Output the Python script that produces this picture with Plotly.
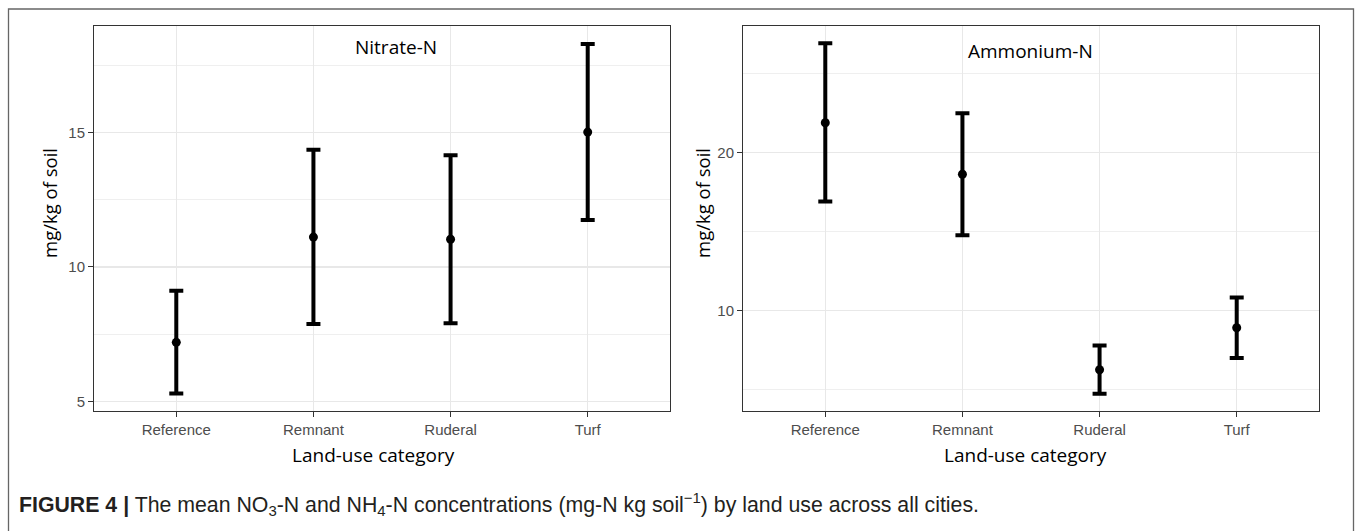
import plotly.graph_objects as go

W, H = 1357, 531

categories = ["Reference", "Remnant", "Ruderal", "Turf"]

nitrate_mean = [7.20, 11.11, 11.03, 15.01]
nitrate_upper = [9.12, 14.35, 14.15, 18.28]
nitrate_lower = [5.30, 7.88, 7.91, 11.74]

ammonium_mean = [21.90, 18.63, 6.23, 8.89]
ammonium_upper = [26.94, 22.50, 7.77, 10.82]
ammonium_lower = [16.90, 14.76, 4.71, 6.98]

nitrate_ticks = [5, 10, 15]
ammonium_ticks = [10, 20]

TITLE_FONT = "Open Sans, Noto Sans, sans-serif"
TICK_FONT = "Liberation Sans, Arial, sans-serif"


def px(x):
    return x / W


def py(y):
    return 1 - y / H


def add_panel(fig, means, upper, lower, xa, ya):
    fig.add_trace(go.Scatter(
        x=categories, y=means, mode="markers",
        xaxis=xa, yaxis=ya,
        marker=dict(color="black", size=9),
        error_y=dict(
            type="data", symmetric=False,
            array=[u - m for u, m in zip(upper, means)],
            arrayminus=[m - l for m, l in zip(means, lower)],
            color="black", thickness=4, width=7,
        ),
        showlegend=False,
        cliponaxis=False,
    ))


fig = go.Figure()
add_panel(fig, nitrate_mean, nitrate_upper, nitrate_lower, "x", "y")
add_panel(fig, ammonium_mean, ammonium_upper, ammonium_lower, "x2", "y2")

common_x = dict(
    type="category", categoryorder="array", categoryarray=categories,
    range=[-0.6, 3.6], showgrid=True, gridcolor="#E8E8E8", gridwidth=1.4,
    showline=True, mirror=True, linecolor="#333333", linewidth=1,
    ticks="outside", ticklen=5, tickcolor="#333333", tickwidth=1,
    tickfont=dict(family=TICK_FONT, size=15, color="#4D4D4D"),
    zeroline=False, fixedrange=True,
)
common_y = dict(
    showgrid=True, gridcolor="#E8E8E8", gridwidth=1.4,
    showline=True, mirror=True, linecolor="#333333", linewidth=1,
    ticks="outside", ticklen=5, tickcolor="#333333", tickwidth=1,
    tickfont=dict(family=TICK_FONT, size=15, color="#4D4D4D"),
    zeroline=False, fixedrange=True,
)

fig.update_layout(
    width=W, height=H, autosize=False,
    margin=dict(l=0, r=0, t=0, b=0),
    paper_bgcolor="white", plot_bgcolor="white",
    xaxis=dict(common_x, domain=[px(94), px(670)], anchor="y"),
    xaxis2=dict(common_x, domain=[px(743), px(1319)], anchor="y2"),
    yaxis=dict(common_y, domain=[py(411), py(26)], anchor="x",
               range=[4.65, 18.95], tickvals=nitrate_ticks,
               minor=dict(dtick=2.5, tick0=0, showgrid=True,
                          gridcolor="#EFEFEF", gridwidth=1, ticks="")),
    yaxis2=dict(common_y, domain=[py(411), py(26)], anchor="x2",
                range=[3.61, 28.04], tickvals=ammonium_ticks,
                minor=dict(dtick=5, tick0=0, showgrid=True,
                           gridcolor="#EFEFEF", gridwidth=1, ticks="")),
)

ann = []
title_font = dict(family=TITLE_FONT, size=19, color="black")
ann.append(dict(text="Nitrate-N", x=px(396), y=py(47), xref="paper", yref="paper",
                showarrow=False, font=title_font, xanchor="center", yanchor="middle"))
ann.append(dict(text="Ammonium-N", x=px(1030), y=py(51), xref="paper", yref="paper",
                showarrow=False, font=title_font, xanchor="center", yanchor="middle"))
for cx in (373, 1025):
    ann.append(dict(text="Land-use category", x=px(cx), y=py(455), xref="paper", yref="paper",
                    showarrow=False, font=dict(family=TITLE_FONT, size=19, color="black"),
                    xanchor="center", yanchor="middle"))
for cx in (49, 702):
    ann.append(dict(text="mg/kg of soil", x=px(cx), y=py(203), xref="paper", yref="paper",
                    showarrow=False, textangle=-90,
                    font=dict(family=TITLE_FONT, size=18.5, color="black"),
                    xanchor="center", yanchor="middle"))
ann.append(dict(
    text="<b>FIGURE 4 |</b> The mean NO<sub>3</sub>-N and NH<sub>4</sub>-N concentrations "
         "(mg-N kg soil<sup>\u22121</sup>) by land use across all cities.",
    x=px(17), y=py(504), xref="paper", yref="paper", showarrow=False,
    font=dict(family=TICK_FONT, size=21.3, color="#231F20"),
    xanchor="left", yanchor="middle"))
fig.update_layout(annotations=ann)

fig.add_shape(type="rect", xref="paper", yref="paper",
              x0=px(8.5), x1=px(1353.5), y0=py(545), y1=py(9),
              line=dict(color="#666666", width=1.3), fillcolor="rgba(0,0,0,0)",
              layer="below")

fig.write_html(
    "out.html",
    config={"displayModeBar": False, "staticPlot": True},
    post_script="document.body.style.margin='0';document.body.style.overflow='hidden';",
)
